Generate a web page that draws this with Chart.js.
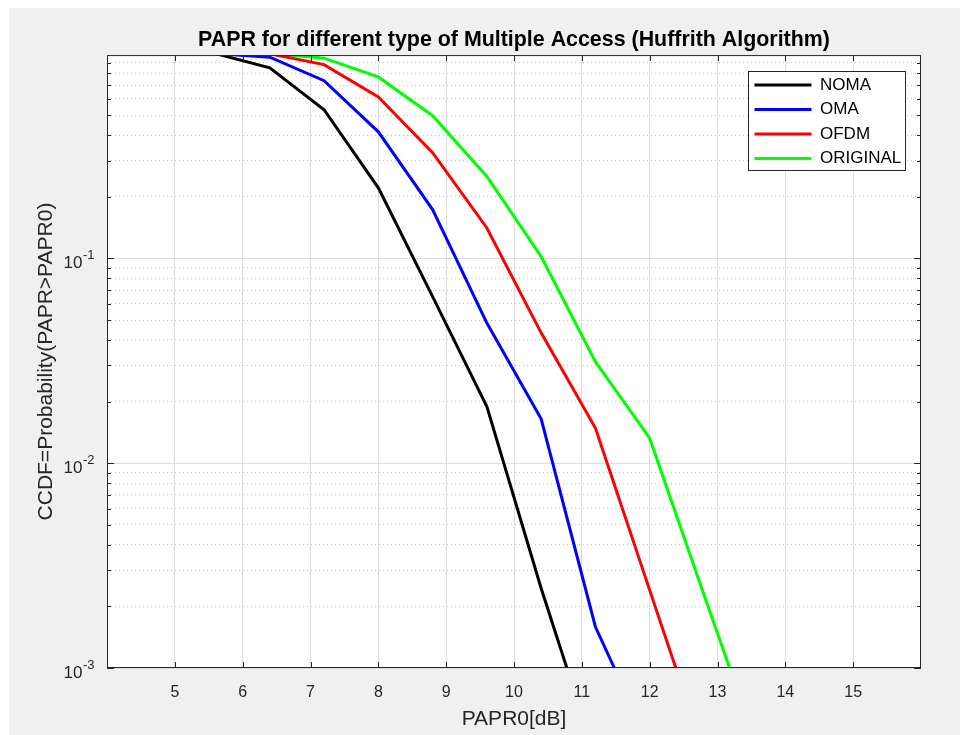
<!DOCTYPE html>
<html lang="en">
<head>
<meta charset="UTF-8">
<title>PAPR for different type of Multiple Access</title>
<script src="https://cdn.jsdelivr.net/npm/chart.js@4.4.1/dist/chart.umd.min.js"></script>
<style>
  html, body { margin: 0; padding: 0; background: #ffffff; overflow: hidden; }
  canvas { display: block; }
</style>
</head>
<body>
<canvas id="papr" width="960" height="735"></canvas>
<script>
// PAPR0 thresholds (dB) where the CCDF was sampled
const paprX = [5.6, 6.4, 7.2, 8.0, 8.8, 9.6, 10.4, 11.2, 12.0, 12.8, 13.6];

// CCDF values (null = not drawn)
const noma     = [1.0, 0.851, 0.532, 0.221, 0.065, 0.0189, 0.00245, 0.00037, null, null, null];
const oma      = [1.0, 0.96, 0.737, 0.415, 0.173, 0.0483, 0.01646, 0.00159, 0.00042, null, null];
const ofdm     = [1.0, 0.997, 0.883, 0.614, 0.328, 0.1407, 0.0433, 0.01483, 0.0024, 0.00039, null];
const original = [1.0, 1.0, 0.95, 0.769, 0.497, 0.251, 0.102, 0.0313, 0.01324, 0.00228, 0.0004];

const seriesNames = ['NOMA', 'OMA', 'OFDM', 'ORIGINAL'];
const seriesColors = ['#000000', '#0000ff', '#ff0000', '#00ff00'];

// axis ticks
const xTicks = [5, 6, 7, 8, 9, 10, 11, 12, 13, 14, 15];
const yDecades = [0.001, 0.01, 0.1];
const yTickBase = '10';
const yTickExp = ['-3', '-2', '-1'];

// minor grid values 1..9 x each decade
const yGrid = [];
yDecades.forEach(d => { for (let k = 1; k <= 9; k++) yGrid.push(+(k * d).toPrecision(6)); });

const FONT = "'Liberation Sans', Arial, Helvetica, sans-serif";
const AXIS = '#262626';

function isDecade(v) {
  const l = Math.log10(v);
  return Math.abs(l - Math.round(l)) < 1e-6;
}

function toPoints(ys) {
  return paprX.map((x, i) => ({ x: x, y: ys[i] }));
}

const allSeries = [noma, oma, ofdm, original];

const matlabAxes = {
  id: 'matlabAxes',
  beforeDraw(chart) {
    const { ctx, chartArea: a } = chart;
    ctx.save();
    ctx.fillStyle = '#ffffff';
    ctx.fillRect(0, 0, chart.width, chart.height);
    ctx.fillStyle = '#f0f0f0';
    ctx.fillRect(9, 8, chart.width - 9, chart.height - 8);
    ctx.fillStyle = '#ffffff';
    ctx.fillRect(a.left, a.top, a.right - a.left, a.bottom - a.top);
    ctx.restore();
  },
  afterLayout(chart) {
    // put the legend inside the axes, top right, with a framed box
    const lg = chart.legend;
    if (!lg) return;
    lg.left = 747; lg.top = 69; lg.right = 906; lg.bottom = 240;
    lg.width = lg.right - lg.left; lg.height = lg.bottom - lg.top;
    if (!lg._framed) {
      const orig = lg.draw;
      lg.draw = function (area) {
        const ctx = this.ctx;
        ctx.save();
        ctx.fillStyle = '#ffffff';
        ctx.fillRect(748, 71, 158, 100);
        ctx.strokeStyle = AXIS;
        ctx.lineWidth = 1;
        ctx.strokeRect(748.5, 71.5, 157, 99);
        ctx.restore();
        orig.call(this, area);
      };
      lg._framed = true;
    }
  },
  afterDraw(chart) {
    const { ctx, chartArea: a, scales } = chart;
    ctx.save();
    ctx.strokeStyle = AXIS;
    ctx.lineWidth = 1;
    ctx.beginPath();
    xTicks.forEach(v => {
      const px = Math.round(scales.x.getPixelForValue(v)) + 0.5;
      ctx.moveTo(px, a.bottom); ctx.lineTo(px, a.bottom - 6);
      ctx.moveTo(px, a.top); ctx.lineTo(px, a.top + 6);
    });
    yGrid.forEach(v => {
      const py = Math.round(scales.y.getPixelForValue(v)) + 0.5;
      const len = isDecade(v) ? 7 : 4;
      ctx.moveTo(a.left, py); ctx.lineTo(a.left + len, py);
      ctx.moveTo(a.right, py); ctx.lineTo(a.right - len, py);
    });
    ctx.stroke();
    ctx.strokeRect(a.left + 0.5, a.top + 0.5, a.right - a.left - 1, a.bottom - a.top - 1);

    // y tick labels as 10 with a raised exponent
    ctx.fillStyle = AXIS;
    ctx.textBaseline = 'alphabetic';
    yDecades.forEach((d, i) => {
      const py = scales.y.getPixelForValue(d);
      ctx.font = '13px ' + FONT;
      const expW = ctx.measureText(yTickExp[i]).width;
      const expX = a.left - 12.5 - expW;
      ctx.textAlign = 'left';
      ctx.fillText(yTickExp[i], expX, py + 1);
      ctx.font = '17px ' + FONT;
      ctx.textAlign = 'right';
      ctx.fillText(yTickBase, expX - 0.5, py + 10);
    });
    ctx.restore();
  }
};

const ctx = document.getElementById('papr').getContext('2d');
const paprChart = new Chart(ctx, {
  type: 'line',
  data: {
    datasets: allSeries.map((s, i) => ({
      label: seriesNames[i],
      data: toPoints(s),
      borderColor: seriesColors[i],
      backgroundColor: seriesColors[i],
      borderWidth: 3,
      pointRadius: 0,
      tension: 0,
      fill: false,
      clip: 0
    }))
  },
  options: {
    responsive: false,
    animation: false,
    layout: { padding: { left: 0, right: 39, top: 0, bottom: 0 } },
    scales: {
      x: {
        type: 'linear',
        min: 4,
        max: 16,
        afterBuildTicks: s => { s.ticks = xTicks.map(v => ({ value: v })); },
        afterFit: s => { s.height = 67; },
        ticks: {
          autoSkip: false,
          maxRotation: 0,
          padding: 15,
          color: AXIS,
          font: { family: FONT, size: 16 },
          callback: v => String(v)
        },
        grid: { color: '#dedede', lineWidth: 1, drawTicks: false },
        border: { display: false },
        title: {
          display: true,
          text: 'PAPR0[dB]',
          color: AXIS,
          font: { family: FONT, size: 21 },
          padding: { top: 0, bottom: 3 }
        }
      },
      y: {
        type: 'logarithmic',
        min: 0.001,
        max: 0.983,
        afterBuildTicks: s => { s.ticks = yGrid.map(v => ({ value: v, major: isDecade(v) })); },
        afterFit: s => { s.width = 107; },
        ticks: {
          display: false,
          autoSkip: false
        },
        grid: {
          drawTicks: false,
          lineWidth: 1,
          color: c => (c.tick && !isDecade(c.tick.value)) ? '#c4c4c4' : '#dedede'
        },
        border: {
          display: false,
          dash: c => (c.tick && !isDecade(c.tick.value)) ? [1, 3] : []
        },
        title: {
          display: true,
          text: 'CCDF=Probability(PAPR>PAPR0)',
          color: AXIS,
          font: { family: FONT, size: 21 },
          padding: { top: 34, bottom: 0 }
        }
      }
    },
    plugins: {
      title: {
        display: true,
        fullSize: false,
        text: 'PAPR for different type of Multiple Access (Huffrith Algorithm)',
        color: '#000000',
        font: { family: FONT, size: 21.4, weight: 'bold' },
        padding: { top: 27.2, bottom: 2.2 }
      },
      legend: {
        display: true,
        position: 'chartArea',
        align: 'start',
        labels: {
          color: '#000000',
          font: { family: FONT, size: 17 },
          boxWidth: 57,
          boxHeight: 3,
          padding: 7.5,
          generateLabels: chart => Chart.defaults.plugins.legend.labels.generateLabels(chart)
            .map(it => Object.assign(it, { fillStyle: it.strokeStyle, lineWidth: 0 }))
        }
      },
      tooltip: { enabled: false }
    }
  },
  plugins: [matlabAxes]
});
</script>
</body>
</html>
